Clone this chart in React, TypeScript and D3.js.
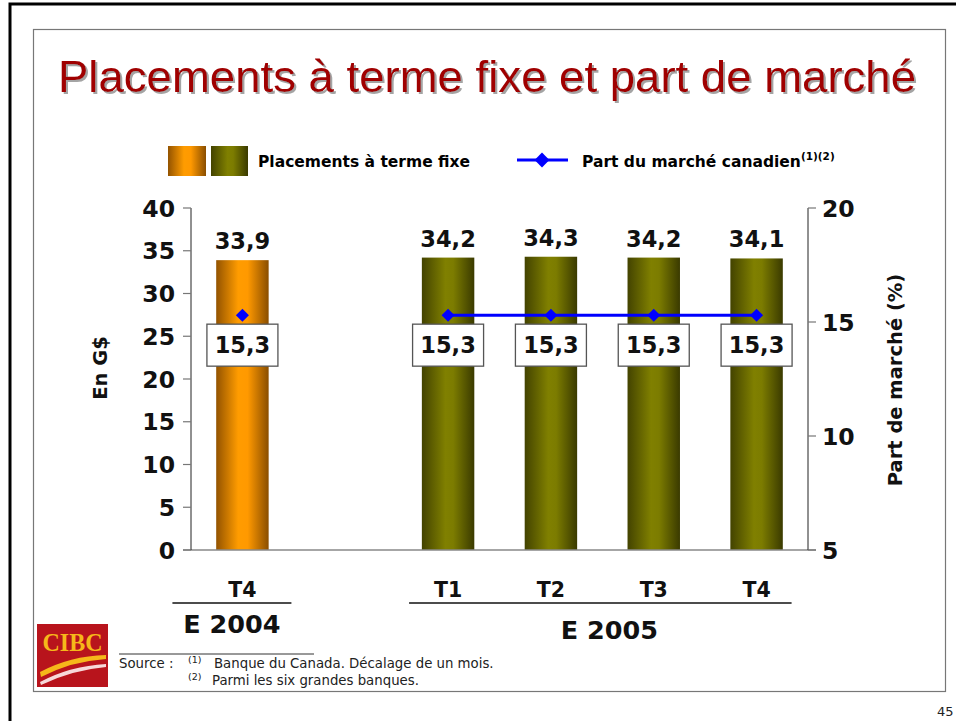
import React from "react";
import * as d3 from "d3";

// ---------- data ----------
const periods = ["2004 T4", "2005 T1", "2005 T2", "2005 T3", "2005 T4"];
const quarterLabels = ["T4", "T1", "T2", "T3", "T4"];
const deposits = [33.9, 34.2, 34.3, 34.2, 34.1];
const marketShare = [15.3, 15.3, 15.3, 15.3, 15.3];
const slots = ["2004 T4", "gap", "2005 T1", "2005 T2", "2005 T3", "2005 T4"];
const yearLabels = ["E 2004", "E 2005"];
const yearPeriods = [["2004 T4"], ["2005 T1", "2005 T2", "2005 T3", "2005 T4"]];
const leftTicks = [0, 5, 10, 15, 20, 25, 30, 35, 40];
const rightTicks = [5, 10, 15, 20];
const fmt = (v: number) => v.toFixed(1).replace(".", ",");

const FONT = "'DejaVu Sans', Verdana, sans-serif";

export default function App() {
  const W = 956, H = 721;
  const plot = { left: 191, right: 808, top: 208, bottom: 550 };
  const x = d3.scaleBand<string>().domain(slots).range([plot.left, plot.right]).paddingInner(0.49).paddingOuter(0.245);
  const yL = d3.scaleLinear().domain([0, 40]).range([plot.bottom, plot.top]);
  const yR = d3.scaleLinear().domain([5, 20]).range([plot.bottom, plot.top]);
  const cx = (p: string) => (x(p) as number) + x.bandwidth() / 2;
  const bw = x.bandwidth();
  const diamond = d3.symbol().type(d3.symbolSquare).size(85)() as string;
  const diamondLg = d3.symbol().type(d3.symbolSquare).size(110)() as string;
  const line = d3.line<string>().x((p) => cx(p)).y((p) => yR(marketShare[periods.indexOf(p)]));
  const groupPad = [
    [-70, 49],
    [-39, 35],
  ];

  return (
    <svg width={W} height={H} style={{ position: "absolute", left: 0, top: 0, background: "#fff" }}>
      <defs>
        <linearGradient id="gOrange" x1="0" x2="1" y1="0" y2="0">
          <stop offset="0" stopColor="#935300" />
          <stop offset="0.42" stopColor="#ff9c00" />
          <stop offset="0.6" stopColor="#ff9900" />
          <stop offset="1" stopColor="#8a4e00" />
        </linearGradient>
        <linearGradient id="gOlive" x1="0" x2="1" y1="0" y2="0">
          <stop offset="0" stopColor="#434300" />
          <stop offset="0.45" stopColor="#808000" />
          <stop offset="0.6" stopColor="#7c7c00" />
          <stop offset="1" stopColor="#3a3a00" />
        </linearGradient>
        <filter id="shadow" x="-5%" y="-20%" width="110%" height="150%">
          <feDropShadow dx={2} dy={2} stdDeviation={0.3} floodColor="#9a9a9a" floodOpacity={0.9} />
        </filter>
      </defs>

      {/* frames */}
      <rect x={10} y={4} width={1000} height={1000} fill="none" stroke="#000" strokeWidth={3} />
      <rect x={33.5} y={29.5} width={912} height={662} fill="none" stroke="#777" strokeWidth={1.2} />
      <text x={937} y={716} fontFamily={FONT} fontSize={13} fill="#222">45</text>

      {/* title */}
      <text x={58} y={92} fill="#a00000" filter="url(#shadow)" textLength={858} lengthAdjust="spacingAndGlyphs"
        fontFamily="'Liberation Sans Narrow', 'Arial Narrow', 'Liberation Sans', sans-serif" fontSize={44}>
        Placements à terme fixe et part de marché
      </text>

      {/* legend */}
      <rect x={168} y={146} width={38} height={30} fill="url(#gOrange)" />
      <rect x={211} y={146} width={37} height={30} fill="url(#gOlive)" />
      <text x={258} y={167} fontFamily={FONT} fontWeight="bold" fontSize={15.5} fill="#000">Placements à terme fixe</text>
      <line x1={517} x2={568} y1={160} y2={160} stroke="#0000ff" strokeWidth={3} />
      <path d={diamondLg} transform="translate(542,160) rotate(45)" fill="#0000ff" />
      <text x={582} y={167} fontFamily={FONT} fontWeight="bold" fontSize={15.5} fill="#000">
        Part du marché canadien
        <tspan fontSize={10.5} dy={-7}>(1)(2)</tspan>
      </text>

      {/* bars */}
      {periods.map((p, i) => (
        <rect key={p} x={x(p)} y={yL(deposits[i])} width={bw} height={yL(0) - yL(deposits[i])}
          fill={i === 0 ? "url(#gOrange)" : "url(#gOlive)"} />
      ))}
      {periods.map((p, i) => (
        <text key={"v" + p} x={cx(p)} y={yL(deposits[i]) - 11} textAnchor="middle" fontFamily={FONT}
          fontWeight="bold" fontSize={22.5} fill="#111">{fmt(deposits[i])}</text>
      ))}

      {/* axes */}
      <line x1={plot.left - 8} x2={plot.right + 8} y1={plot.bottom} y2={plot.bottom} stroke="#888" strokeWidth={1.5} />
      <line x1={plot.left} x2={plot.left} y1={plot.top} y2={plot.bottom} stroke="#222" strokeWidth={1} />
      <line x1={plot.right} x2={plot.right} y1={plot.top} y2={plot.bottom} stroke="#222" strokeWidth={1} />
      {leftTicks.map((t) => (
        <g key={"l" + t}>
          <line x1={plot.left - 8} x2={plot.left} y1={yL(t)} y2={yL(t)} stroke="#777" strokeWidth={1.2} />
          <text x={175} y={yL(t) + 8.5} textAnchor="end" fontFamily={FONT} fontWeight="bold" fontSize={23.5} fill="#111">{t}</text>
        </g>
      ))}
      {rightTicks.map((t) => (
        <g key={"r" + t}>
          <line x1={plot.right} x2={plot.right + 8} y1={yR(t)} y2={yR(t)} stroke="#777" strokeWidth={1.2} />
          <text x={822} y={yR(t) + 8.5} fontFamily={FONT} fontWeight="bold" fontSize={23.5} fill="#111">{t}</text>
        </g>
      ))}
      <text transform="translate(107,368) rotate(-90)" textAnchor="middle" fontFamily={FONT} fontWeight="bold" fontSize={19.5} fill="#111">En G$</text>
      <text transform="translate(902,380) rotate(-90)" textAnchor="middle" fontFamily={FONT} fontWeight="bold" fontSize={19.5} fill="#111">Part de marché (%)</text>

      {/* market share line */}
      {yearPeriods.map((g, gi) => (
        <path key={"ln" + gi} d={line(g) as string} fill="none" stroke="#0000ff" strokeWidth={3} />
      ))}
      {periods.map((p, i) => (
        <path key={"d" + p} d={diamond} transform={`translate(${cx(p)},${yR(marketShare[i])}) rotate(45)`} fill="#0000ff" />
      ))}
      {periods.map((p, i) => (
        <g key={"b" + p}>
          <rect x={cx(p) - 35.5} y={yR(marketShare[i]) + 9} width={71} height={42} fill="#fff" stroke="#555" strokeWidth={1.3} />
          <text x={cx(p)} y={yR(marketShare[i]) + 38} textAnchor="middle" fontFamily={FONT} fontWeight="bold" fontSize={22.5} fill="#111">
            {fmt(marketShare[i])}
          </text>
        </g>
      ))}

      {/* category axis */}
      {periods.map((p, i) => (
        <text key={"q" + p} x={cx(p)} y={597} textAnchor="middle" fontFamily={FONT} fontWeight="bold" fontSize={20.5} fill="#111">{quarterLabels[i]}</text>
      ))}
      {yearPeriods.map((g, gi) => {
        const x1 = cx(g[0]) + groupPad[gi][0];
        const x2 = cx(g[g.length - 1]) + groupPad[gi][1];
        return (
          <g key={"y" + gi}>
            <line x1={x1} x2={x2} y1={603} y2={603} stroke="#111" strokeWidth={1.3} />
            <text x={(x1 + x2) / 2 + (gi === 1 ? 9 : 0)} y={gi === 0 ? 633 : 639} textAnchor="middle" fontFamily={FONT}
              fontWeight="bold" fontSize={25.5} fill="#111">{yearLabels[gi]}</text>
          </g>
        );
      })}

      {/* logo */}
      <rect x={37} y={624} width={71} height={63} fill="#b8141c" />
      <text x={72.5} y={651} textAnchor="middle" fontFamily="'Liberation Serif', serif" fontWeight="bold" fontSize={25} fill="#f6b81a" textLength={60} lengthAdjust="spacingAndGlyphs">CIBC</text>
      <path d="M40,672 Q70,656 106,655 L106,659 Q72,661 41,677 Z" fill="#f6b81a" />
      <path d="M40,682 Q70,666 106,664 L106,667 Q72,670 41,685 Z" fill="#f7d9d9" />

      {/* footnotes */}
      <line x1={119} x2={314} y1={654} y2={654} stroke="#333" strokeWidth={1} />
      <g fontFamily={FONT} fontSize={13.3} fill="#222">
        <text x={119} y={668}>Source :</text>
        <text x={188} y={663} fontSize={9.5}>(1)</text>
        <text x={214} y={668}>Banque du Canada. Décalage de un mois.</text>
        <text x={188} y={680} fontSize={9.5}>(2)</text>
        <text x={212} y={685}>Parmi les six grandes banques.</text>
      </g>
    </svg>
  );
}
